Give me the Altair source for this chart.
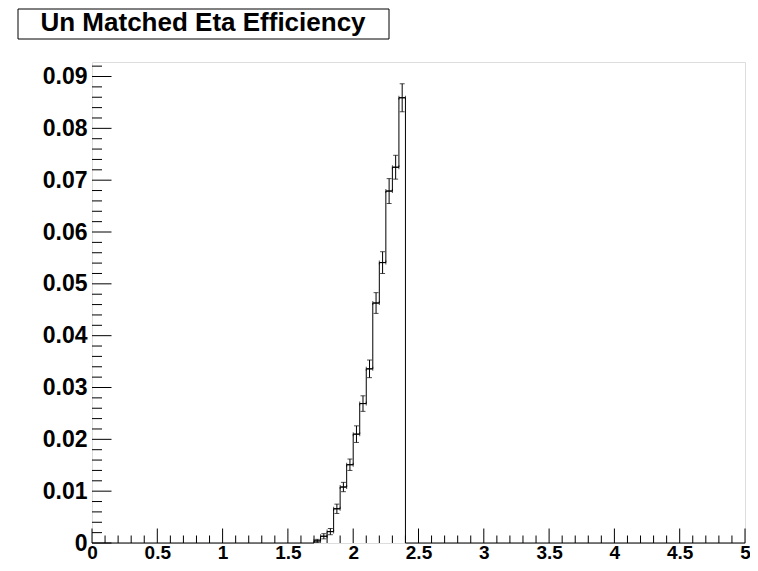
import altair as alt
import pandas as pd

# ---- data ----
bin_low = [1.70, 1.75, 1.80, 1.85, 1.90, 1.95, 2.00, 2.05, 2.10, 2.15, 2.20, 2.25, 2.30, 2.35]
bin_high = [1.75, 1.80, 1.85, 1.90, 1.95, 2.00, 2.05, 2.10, 2.15, 2.20, 2.25, 2.30, 2.35, 2.40]
bin_center = [1.725, 1.775, 1.825, 1.875, 1.925, 1.975, 2.025, 2.075, 2.125, 2.175, 2.225, 2.275, 2.325, 2.375]
values = [0.0004, 0.0013, 0.0022, 0.0066, 0.0108, 0.0151, 0.0210, 0.0269, 0.0336, 0.0463, 0.0541, 0.0679, 0.0725, 0.0859]
errors = [0.0003, 0.0005, 0.0006, 0.0009, 0.0009, 0.0011, 0.0016, 0.0015, 0.0017, 0.0020, 0.0021, 0.0024, 0.0023, 0.0027]

x_major = [0, 0.5, 1, 1.5, 2, 2.5, 3, 3.5, 4, 4.5, 5]
x_minor = [0.1, 0.2, 0.3, 0.4, 0.6, 0.7, 0.8, 0.9, 1.1, 1.2, 1.3, 1.4, 1.6, 1.7, 1.8, 1.9,
           2.1, 2.2, 2.3, 2.4, 2.6, 2.7, 2.8, 2.9, 3.1, 3.2, 3.3, 3.4, 3.6, 3.7, 3.8, 3.9,
           4.1, 4.2, 4.3, 4.4, 4.6, 4.7, 4.8, 4.9]
y_major = [0, 0.01, 0.02, 0.03, 0.04, 0.05, 0.06, 0.07, 0.08, 0.09]
y_minor = [0.002, 0.004, 0.006, 0.008, 0.012, 0.014, 0.016, 0.018, 0.022, 0.024, 0.026, 0.028,
           0.032, 0.034, 0.036, 0.038, 0.042, 0.044, 0.046, 0.048, 0.052, 0.054, 0.056, 0.058,
           0.062, 0.064, 0.066, 0.068, 0.072, 0.074, 0.076, 0.078, 0.082, 0.084, 0.086, 0.088,
           0.092]

x_range = [0, 5]
y_range = [0, 0.0928]
title_text = "Un Matched Eta Efficiency"

# ---- layout ----
W, H = 653, 481
TOP = 54
FONT = "Liberation Sans"

xs = alt.Scale(domain=x_range, nice=False, zero=False)
ys = alt.Scale(domain=y_range, nice=False, zero=False)

# step line of the histogram (zero outside the filled bins)
step_x = [x_range[0]] + bin_low + [bin_high[-1], x_range[1]]
step_y = [0.0] + values + [0.0, 0.0]
step_df = pd.DataFrame({"x": step_x, "y": step_y})

bins_df = pd.DataFrame({
    "lo": bin_low, "hi": bin_high, "c": bin_center,
    "v": values, "e": errors,
})
bins_df["vlo"] = bins_df["v"] - bins_df["e"]
bins_df["vhi"] = bins_df["v"] + bins_df["e"]

base_x = alt.X("x:Q", scale=xs,
               axis=alt.Axis(values=x_major, format="~g", ticks=False, domain=False, grid=False,
                             labelFont=FONT, labelFontSize=19, labelFontWeight="bold",
                             labelColor="black", labelPadding=0, labelFlush=False, title=None))
base_y = alt.Y("y:Q", scale=ys,
               axis=alt.Axis(values=y_major, format="~g", ticks=False, domain=False, grid=False,
                             labelFont=FONT, labelFontSize=23, labelFontWeight="bold",
                             labelColor="black", labelPadding=5, labelFlush=False, title=None))

step = alt.Chart(step_df).mark_line(interpolate="step-after", color="black", strokeWidth=1).encode(
    x=base_x, y=base_y
)

ebar = alt.Chart(bins_df).mark_rule(color="black", strokeWidth=1).encode(
    x=alt.X("c:Q", scale=xs), y=alt.Y("vlo:Q", scale=ys), y2="vhi:Q"
)
xbar = alt.Chart(bins_df).mark_rule(color="black", strokeWidth=1).encode(
    x=alt.X("lo:Q", scale=xs), x2="hi:Q", y=alt.Y("v:Q", scale=ys)
)
cap_top = alt.Chart(bins_df).mark_tick(color="black", orient="horizontal", size=5, thickness=1).encode(
    x=alt.X("c:Q", scale=xs), y=alt.Y("vhi:Q", scale=ys)
)
cap_bot = alt.Chart(bins_df).mark_tick(color="black", orient="horizontal", size=5, thickness=1).encode(
    x=alt.X("c:Q", scale=xs), y=alt.Y("vlo:Q", scale=ys)
)
cap_lo = alt.Chart(bins_df).mark_tick(color="black", orient="vertical", size=4, thickness=1).encode(
    x=alt.X("lo:Q", scale=xs), y=alt.Y("v:Q", scale=ys)
)
cap_hi = alt.Chart(bins_df).mark_tick(color="black", orient="vertical", size=4, thickness=1).encode(
    x=alt.X("hi:Q", scale=xs), y=alt.Y("v:Q", scale=ys)
)

# inward ticks (ROOT style)
xmaj_df = pd.DataFrame({"t": x_major})
xmin_df = pd.DataFrame({"t": x_minor})
ymaj_df = pd.DataFrame({"t": y_major})
ymin_df = pd.DataFrame({"t": y_minor})

xmaj = alt.Chart(xmaj_df).mark_rule(color="black", strokeWidth=1).encode(
    x=alt.X("t:Q", scale=xs), y=alt.value(H), y2=alt.value(H - 14.5))
xmin = alt.Chart(xmin_df).mark_rule(color="black", strokeWidth=1).encode(
    x=alt.X("t:Q", scale=xs), y=alt.value(H), y2=alt.value(H - 7.5))
ymaj = alt.Chart(ymaj_df).mark_rule(color="black", strokeWidth=1).encode(
    y=alt.Y("t:Q", scale=ys), x=alt.value(0), x2=alt.value(19.5))
ymin = alt.Chart(ymin_df).mark_rule(color="black", strokeWidth=1).encode(
    y=alt.Y("t:Q", scale=ys), x=alt.value(0), x2=alt.value(10))

# title box
title_df = pd.DataFrame({"label": [title_text]})
tbox = alt.Chart(title_df).mark_rect(fill="white", stroke="black", strokeWidth=1).encode(
    x=alt.value(-74), x2=alt.value(297), y=alt.value(1 - TOP), y2=alt.value(31 - TOP))
ttext = alt.Chart(title_df).mark_text(font=FONT, fontSize=26, fontWeight="bold", color="black",
                                      align="center", baseline="alphabetic").encode(
    x=alt.value(111), y=alt.value(23 - TOP), text="label:N")

chart = alt.layer(
    step, xbar, ebar, cap_top, cap_bot, cap_lo, cap_hi,
    xmaj, xmin, ymaj, ymin, tbox, ttext
).properties(
    width=W, height=H,
    autosize=alt.AutoSizeParams(type="none"),
    padding={"left": 84, "top": TOP, "right": 5, "bottom": 20},
).configure_view(
    stroke="black", strokeWidth=1
).configure(background="white")

chart.save("out.html", embed_options={"renderer": "svg", "actions": False})
